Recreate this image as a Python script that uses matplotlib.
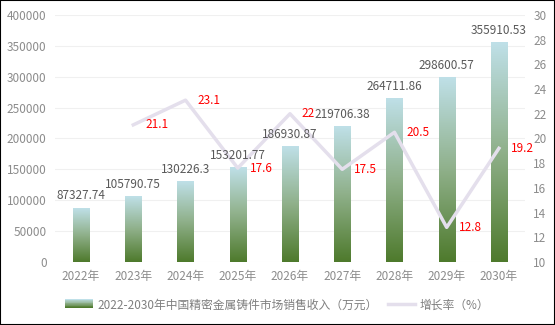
import numpy as np
import matplotlib
matplotlib.use('Agg')
import matplotlib.pyplot as plt
from matplotlib.colors import LinearSegmentedColormap
from matplotlib.patches import Rectangle
from matplotlib.legend_handler import HandlerBase
from matplotlib.lines import Line2D

plt.rcParams['font.family'] = ['Noto Sans CJK SC', 'DejaVu Sans']

years = ['2022年', '2023年', '2024年', '2025年', '2026年', '2027年', '2028年', '2029年', '2030年']
revenue = [87327.74, 105790.75, 130226.3, 153201.77, 186930.87, 219706.38, 264711.86, 298600.57, 355910.53]
growth = [None, 21.1, 23.1, 17.6, 22, 17.5, 20.5, 12.8, 19.2]
bar_label = '2022-2030年中国精密金属铸件市场销售收入（万元）'
line_label = '增长率（%）'

cmap = LinearSegmentedColormap.from_list('g', ['#4e7a2c', '#8fb08a', '#bfe0e8'])
tick_color = '#8c8c8c'

fig = plt.figure(figsize=(5.55, 3.25), dpi=100)
ax = fig.add_axes([0.099, 0.194, 0.847, 0.760])
ax2 = ax.twinx()

x = np.arange(len(years))
w = 0.31
grad = np.linspace(0, 1, 256).reshape(-1, 1)
for xi, v in zip(x, revenue):
    ax.imshow(grad, extent=[xi - w / 2, xi + w / 2, 0, v], origin='lower',
              aspect='auto', cmap=cmap, zorder=2)

ax.set_xlim(-0.5, len(years) - 0.5)
ax.set_ylim(0, 400000)
ax.set_yticks(range(0, 400001, 50000))
ax.grid(axis='y', color='#f0f0f0', linewidth=0.8, zorder=0)
ax.set_axisbelow(True)
ax.set_xticks(x)
ax.set_xticklabels(years)

gx = [xi for xi, g in zip(x, growth) if g is not None]
gy = [g for g in growth if g is not None]
ax2.plot(gx, gy, color='#e4dfec', linewidth=2.5, zorder=3)
for xi, g in zip(gx, gy):
    ax2.annotate(str(g), (xi, g), xytext=(8.5, 0), textcoords='offset points',
                 ha='left', va='center', fontsize=8.5, color='red', zorder=5)
ax2.set_ylim(10, 30)
ax2.set_yticks(range(10, 31, 2))

# bar value labels go on the top axes so the line does not cover them
for xi, v in zip(x, revenue):
    ax2.annotate(str(v), (xi, v), xycoords=ax.transData, xytext=(0, 4),
                 textcoords='offset points', ha='center', va='bottom',
                 fontsize=8.5, color='#595959', zorder=5)

for a in (ax, ax2):
    for s in a.spines.values():
        s.set_visible(False)
    a.tick_params(length=0, labelsize=8.5, colors=tick_color)
ax.tick_params(axis='x', pad=6)
ax.tick_params(axis='y', pad=6)
ax2.tick_params(axis='y', pad=6)


class GradHandler(HandlerBase):
    def create_artists(self, legend, orig, xd, yd, width, height, fontsize, trans):
        n = 12
        arts = []
        for i in range(n):
            r = Rectangle((xd, yd + height * i / n), width, height / n + 0.2,
                          facecolor=cmap(i / (n - 1)), edgecolor='none', transform=trans)
            arts.append(r)
        return arts


bar_handle = Rectangle((0, 0), 1, 1)
line_handle = Line2D([], [], color='#e4dfec', linewidth=2.5)
fig.legend([bar_handle, line_handle], [bar_label, line_label],
           handler_map={Rectangle: GradHandler()},
           loc='center', bbox_to_anchor=(0.5, 0.062), ncol=2, frameon=False,
           fontsize=8.5, labelcolor='#7f7f7f', handlelength=2.3, handleheight=0.8,
           columnspacing=0.9, handletextpad=0.4)

fig.patches.append(Rectangle((0, 0), 1, 1, transform=fig.transFigure, fill=False,
                             edgecolor='black', linewidth=1.5))

fig.savefig('out.png', dpi=100)
